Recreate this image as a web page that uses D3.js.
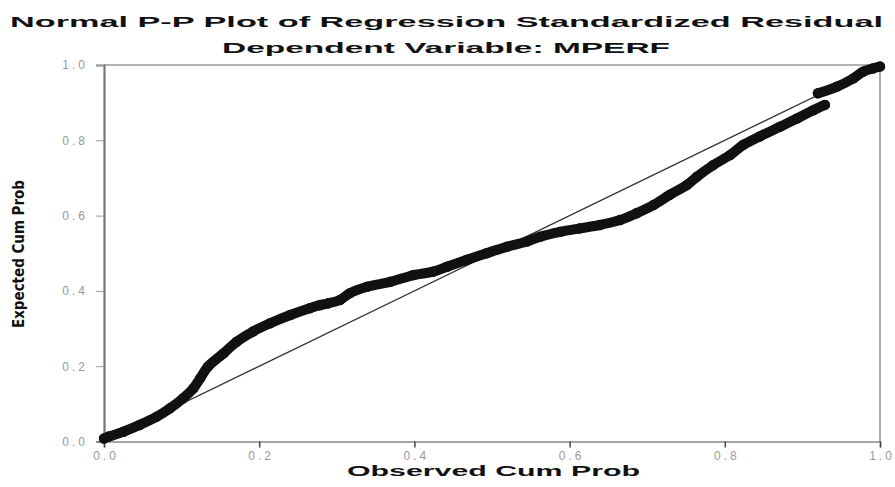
<!DOCTYPE html>
<html><head><meta charset="utf-8">
<script src="https://cdn.jsdelivr.net/npm/d3@7/dist/d3.min.js"></script>
<style>body{margin:0;background:#fff}svg{display:block}</style>
</head><body>
<svg id="chart" width="895" height="487"></svg>
<script>
// Data
const titleText = "Normal P-P Plot of Regression Standardized Residual";
const subtitleText = "Dependent Variable: MPERF";
const xTitle = "Observed Cum Prob";
const yTitle = "Expected Cum Prob";
const tickValues = [0.0, 0.2, 0.4, 0.6, 0.8, 1.0];

const observedMain = [0.000,0.006,0.025,0.046,0.068,0.085,0.102,0.115,0.124,0.134,0.154,0.171,0.192,0.214,0.240,0.265,0.278,0.289,0.304,0.317,0.339,0.369,0.399,0.424,0.442,0.467,0.493,0.519,0.545,0.562,0.588,0.613,0.639,0.665,0.686,0.708,0.729,0.751,0.764,0.785,0.807,0.824,0.845,0.871,0.893,0.914,0.929];
const expectedMain = [0.008,0.013,0.026,0.044,0.066,0.088,0.115,0.141,0.168,0.199,0.234,0.265,0.292,0.314,0.336,0.354,0.362,0.367,0.376,0.394,0.411,0.424,0.442,0.451,0.464,0.482,0.500,0.517,0.531,0.544,0.557,0.566,0.575,0.588,0.606,0.628,0.655,0.681,0.703,0.734,0.761,0.788,0.810,0.836,0.858,0.880,0.894];
const observedTail = [0.920,0.944,0.966,0.978,0.991,1.000];
const expectedTail = [0.925,0.942,0.965,0.982,0.991,0.996];
const diagonal = [0, 1];

const svg = d3.select("#chart");
const L = 104, R = 880, T = 65, B = 441.5;
const x = d3.scaleLinear().domain([0, 1]).range([L, R]);
const y = d3.scaleLinear().domain([0, 1]).range([B, T]);
const fmt = d3.format(".1f");

svg.append("rect").attr("width", 895).attr("height", 487).attr("fill", "#fff");

// Titles
svg.append("text").attr("x", 10).attr("y", 27)
  .attr("textLength", 873).attr("lengthAdjust", "spacingAndGlyphs")
  .attr("font-family", "Liberation Sans, Arial, sans-serif").attr("font-weight", "bold")
  .attr("font-size", 15).attr("fill", "#111").text(titleText);
svg.append("text").attr("x", 222).attr("y", 53)
  .attr("textLength", 448).attr("lengthAdjust", "spacingAndGlyphs")
  .attr("font-family", "Liberation Sans, Arial, sans-serif").attr("font-weight", "bold")
  .attr("font-size", 15).attr("fill", "#111").text(subtitleText);

// Frame (top and right)
svg.append("line").attr("x1", L).attr("x2", R).attr("y1", T).attr("y2", T)
  .attr("stroke", "#999").attr("stroke-width", 1.5);
svg.append("line").attr("x1", R).attr("x2", R).attr("y1", T).attr("y2", B)
  .attr("stroke", "#aaa").attr("stroke-width", 2);

// Axes
const xAxis = d3.axisBottom(x).tickValues(tickValues).tickFormat(fmt).tickSize(6).tickPadding(4);
const yAxis = d3.axisLeft(y).tickValues(tickValues).tickFormat(fmt).tickSize(8).tickPadding(8);
const gx = svg.append("g").attr("transform", `translate(0,${B})`).call(xAxis);
const gy = svg.append("g").attr("transform", `translate(${L},0)`).call(yAxis);
gx.select(".domain").attr("stroke", "#888").attr("stroke-width", 1.5);
gy.select(".domain").attr("stroke", "#777").attr("stroke-width", 2.2);
gx.selectAll(".tick line").attr("stroke", "#444").attr("stroke-width", 1.5);
gy.selectAll(".tick line").attr("stroke", "#999").attr("stroke-width", 1);
[gx, gy].forEach(g => g.selectAll(".tick text")
  .attr("font-family", "Liberation Sans, Arial, sans-serif").attr("font-size", 12)
  .attr("fill", "#999").attr("letter-spacing", "3px"));
gx.selectAll(".tick text").attr("dx", "1.5px");

// Axis titles
svg.append("text").attr("x", 347).attr("y", 476)
  .attr("textLength", 293).attr("lengthAdjust", "spacingAndGlyphs")
  .attr("font-family", "Liberation Sans, Arial, sans-serif").attr("font-weight", "bold")
  .attr("font-size", 14).attr("fill", "#111").text(xTitle);
svg.append("text").attr("transform", "translate(24,328) rotate(-90)")
  .attr("x", 0).attr("y", 0)
  .attr("textLength", 148).attr("lengthAdjust", "spacingAndGlyphs")
  .attr("font-family", "Liberation Sans Narrow, DejaVu Sans Condensed, Arial Narrow, sans-serif")
  .attr("font-weight", "bold").attr("font-size", 15).attr("fill", "#111").text(yTitle);

// Diagonal reference line
svg.append("line")
  .attr("x1", x(diagonal[0])).attr("y1", y(diagonal[0]))
  .attr("x2", x(diagonal[1])).attr("y2", y(diagonal[1]))
  .attr("stroke", "#333").attr("stroke-width", 1.2);

// P-P points: dense circles form a thick band
function drawSeries(obs, exp) {
  const pts = obs.map((o, i) => [o, exp[i]]);
  const line = d3.line().x(d => x(d[0])).y(d => y(d[1])).curve(d3.curveCatmullRom);
  svg.append("path").attr("d", line(pts)).attr("fill", "none")
    .attr("stroke", "#111").attr("stroke-width", 10)
    .attr("stroke-linejoin", "round").attr("stroke-linecap", "round");
  svg.append("g").selectAll("circle").data(pts).join("circle")
    .attr("cx", d => x(d[0])).attr("cy", d => y(d[1])).attr("r", 4.5)
    .attr("fill", "#111").attr("stroke", "#111").attr("stroke-width", 1.5);
}
drawSeries(observedMain, expectedMain);
drawSeries(observedTail, expectedTail);
</script>
</body></html>
